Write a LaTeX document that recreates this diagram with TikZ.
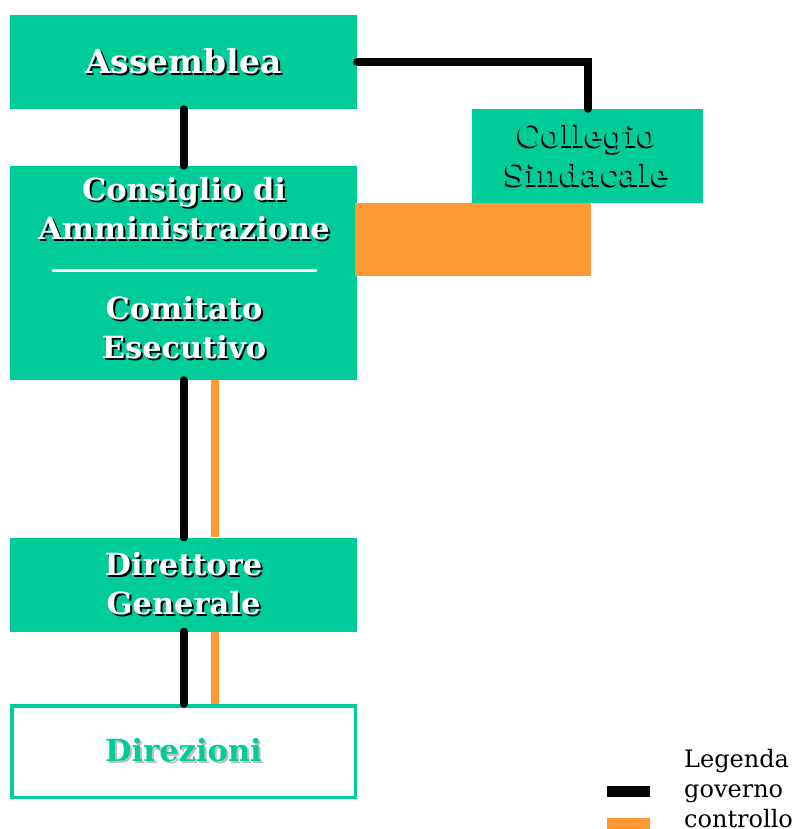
\documentclass[tikz,border=0pt]{standalone}
\usepackage{fontspec}
\setmainfont{DejaVu Serif}
\usetikzlibrary{calc}
\definecolor{tealbox}{RGB}{0,204,153}
\definecolor{ctrlor}{RGB}{255,153,51}
\newcommand\shtext[4]{\leavevmode\rlap{\kern#4\raisebox{-2pt}{\textcolor{#2}{#3}}}\textcolor{#1}{#3}}
\newcommand\wt[1]{\shtext{white}{black}{#1}{2pt}}
\tikzset{
  box/.style={fill=tealbox, inner sep=0pt, minimum width=347pt, minimum height=94pt},
  boxtext/.style={font=\bfseries\fontsize{30.5}{39}\selectfont, align=center, inner sep=0pt},
  gov/.style={line width=8pt, line cap=round, black},
  ctrl/.style={line width=8pt, ctrlor},
  legtext/.style={font=\fontsize{24}{26}\selectfont, anchor=base west, inner sep=0pt}
}
\begin{document}
\begin{tikzpicture}[x=1pt,y=-1pt]
\useasboundingbox[fill=white] (0,0) rectangle (798,829);
% boxes
\node[box] (ass) at (183.5,62) {};
\node[box, minimum width=231pt] (coll) at (587.5,156) {};
\node[box, minimum height=214pt] (cda) at (183.5,273) {};
\node[box] (dg) at (183.5,584.5) {};
\node[draw=tealbox, line width=3.5pt, fill=white, inner sep=0pt, minimum width=343.5pt, minimum height=91.5pt] (dir) at (183.5,751.5) {};
% connectors
\draw[gov] (ass.south) -- (cda.north);
\draw[gov] (ass.east) -| (coll.north);
\fill[ctrlor] ([xshift=-2pt]cda.east |- coll.south) rectangle (591,276);
\draw[gov] (cda.south) -- (dg.north);
\draw[ctrl] ([xshift=31pt]cda.south) -- ([xshift=31pt]dg.north);
\draw[gov] (dg.south) -- (dir.north);
\draw[ctrl] ([xshift=31pt]dg.south) -- ([xshift=31pt]dir.north);
% texts
\node[boxtext, font=\bfseries\fontsize{33}{39}\selectfont] (tass) at (ass.center) {\wt{Assemblea}};
\node[boxtext] (tcoll) at (coll.center) {\shtext{tealbox}{black}{Collegio}{-1.5pt}\\\shtext{tealbox}{black}{Sindacale}{-1.5pt}};
\node[boxtext] (tcda) at (184,210) {\wt{Consiglio di}\\\wt{Amministrazione}};
\draw[white, line width=3pt, line cap=round] (53,270) -- (316,270);
\node[boxtext] (tce) at (184,329) {\wt{Comitato}\\\wt{Esecutivo}};
\node[boxtext] (tdg) at (dg.center) {\wt{Direttore}\\\wt{Generale}};
\node[boxtext] (tdir) at (dir.center) {\shtext{tealbox}{black!25}{Direzioni}{2pt}};
% legend
\node[legtext] (lleg) at (684,767) {Legenda};
\node[legtext] (lgov) at (684,797) {governo};
\node[legtext] (lctrl) at (684,827) {controllo};
\fill[black] (607,786) rectangle (650,797);
\fill[ctrlor] (607,818) rectangle (650,829);
\end{tikzpicture}
\end{document}
